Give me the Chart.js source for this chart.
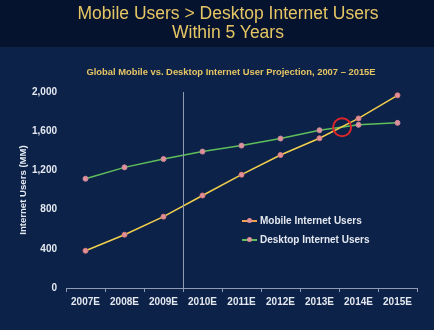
<!DOCTYPE html>
<html>
<head>
<meta charset="utf-8">
<script src="https://cdn.jsdelivr.net/npm/chart.js@4.4.1/dist/chart.umd.min.js"></script>
<style>
  html, body { margin: 0; padding: 0; background: #0c2248; }
  #wrap { position: relative; width: 434px; height: 330px; font-family: "Liberation Sans", Arial, sans-serif; }
  #lineChart { position: absolute; left: 0; top: 0; }
  .head { position: absolute; left: 0; width: 456px; text-align: center; color: #e6c564; white-space: nowrap; }
  #h1 { top: 4px; font-size: 17.5px; line-height: 19px; }
  #h2 { top: 66px; width: 462px; font-size: 9.4px; font-weight: bold; line-height: 12px; }
  #legend { position: absolute; left: 242px; top: 211px; font: bold 10px "Liberation Sans", Arial, sans-serif; color: #e4e8f0; }
  #legend .row { height: 19px; display: flex; align-items: center; }
  #legend .sw { position: relative; width: 15px; height: 2px; margin-right: 3px; }
  #legend .sw i { position: absolute; left: 5px; top: -2px; width: 5px; height: 5px; border-radius: 50%; background: #e0909a; }
</style>
</head>
<body>
<div id="wrap">
  <canvas id="lineChart" width="434" height="330"></canvas>
  <div class="head" id="h1">Mobile Users &gt; Desktop Internet Users<br>Within 5 Years</div>
  <div class="head" id="h2">Global Mobile vs. Desktop Internet User Projection, 2007 &ndash; 2015E</div>
  <div id="legend"></div>
</div>
<script>
document.addEventListener("DOMContentLoaded", function() {
    var years = ['2007E', '2008E', '2009E', '2010E', '2011E', '2012E', '2013E', '2014E', '2015E'];
    var mobileUsers = [380, 544, 728, 944, 1156, 1357, 1528, 1730, 1966];
    var desktopUsers = [1115, 1231, 1316, 1392, 1453, 1525, 1610, 1665, 1685];
    var yTicks = [0, 400, 800, 1200, 1600, 2000];

    var seriesNames = ['Mobile Internet Users', 'Desktop Internet Users'];
    var lineColors = ['#f3cf4e', '#5fbf5a'];
    var legendColors = ['#f0a24e', '#5fbf5a'];

    // where the crossover is marked (category index, value)
    var crossIndex = 6.58, crossValue = 1640;

    var font = "'Liberation Sans', Arial, sans-serif";

    var extras = {
        id: 'extras',
        beforeDraw: function(chart) {
            var c = chart.ctx;
            c.save();
            c.fillStyle = '#0c2248';
            c.fillRect(0, 0, chart.width, chart.height);
            c.fillStyle = '#05132f';
            c.fillRect(0, 0, chart.width, 47);
            c.restore();
        },
        afterDatasetsDraw: function(chart) {
            var c = chart.ctx, x = chart.scales.x, y = chart.scales.y;
            var area = chart.chartArea;
            c.save();
            // divider between actual and projected
            var xd = (x.getPixelForValue(2) + x.getPixelForValue(3)) / 2;
            c.strokeStyle = '#8f9bb5';
            c.lineWidth = 1;
            c.beginPath();
            c.moveTo(Math.round(xd) + 0.5, area.top);
            c.lineTo(Math.round(xd) + 0.5, area.bottom);
            c.stroke();
            // crossover circle
            var i0 = Math.floor(crossIndex);
            var cx = x.getPixelForValue(i0) + (crossIndex - i0) * (x.getPixelForValue(i0 + 1) - x.getPixelForValue(i0));
            var cy = y.getPixelForValue(crossValue);
            c.strokeStyle = '#e0262b';
            c.lineWidth = 2;
            c.beginPath();
            c.arc(cx, cy, 9, 0, Math.PI * 2);
            c.stroke();
            c.restore();
        }
    };

    var ctx = document.getElementById('lineChart').getContext('2d');
    var myChart = new Chart(ctx, {
        type: 'line',
        data: {
            labels: years,
            datasets: [
                {
                    label: seriesNames[0],
                    data: mobileUsers,
                    borderColor: lineColors[0],
                    borderWidth: 1.5,
                    pointRadius: 2.5,
                    pointBackgroundColor: '#e0909a',
                    pointBorderColor: '#d77a7a',
                    pointBorderWidth: 1,
                    fill: false
                },
                {
                    label: seriesNames[1],
                    data: desktopUsers,
                    borderColor: lineColors[1],
                    borderWidth: 1.5,
                    pointRadius: 2.5,
                    pointBackgroundColor: '#e0909a',
                    pointBorderColor: '#c88a9a',
                    pointBorderWidth: 1,
                    fill: false
                }
            ]
        },
        options: {
            responsive: false,
            animation: false,
            layout: { padding: { left: 18, right: 17, top: 92, bottom: 18 } },
            plugins: {
                legend: { display: false },
                tooltip: { enabled: false }
            },
            scales: {
                x: {
                    offset: true,
                    grid: { offset: true, drawOnChartArea: false, color: '#8f9bb5', tickLength: 4 },
                    border: { color: '#8f9bb5' },
                    ticks: { color: '#e4e8f0', font: { family: font, size: 10, weight: 'bold' }, padding: 4, maxRotation: 0 }
                },
                y: {
                    min: 0,
                    max: 2000,
                    afterBuildTicks: function(axis) { axis.ticks = yTicks.map(function(v) { return { value: v }; }); },
                    afterFit: function(axis) { axis.width = 48; },
                    grid: { display: false, drawTicks: false },
                    border: { display: false },
                    ticks: {
                        color: '#e4e8f0',
                        font: { family: font, size: 10, weight: 'bold' },
                        padding: 9,
                        callback: function(v) { return v.toLocaleString('en-US'); }
                    },
                    title: {
                        display: true,
                        text: 'Internet Users (MM)',
                        color: '#e4e8f0',
                        font: { family: font, size: 9.6, weight: 'bold' },
                        padding: { top: 0, bottom: 0 }
                    }
                }
            }
        },
        plugins: [extras]
    });

    var legend = document.getElementById('legend');
    seriesNames.forEach(function(name, i) {
        var row = document.createElement('div');
        row.className = 'row';
        row.innerHTML = '<span class="sw" style="background:' + legendColors[i] + '"><i></i></span>' + name;
        legend.appendChild(row);
    });
});
</script>
</body>
</html>
